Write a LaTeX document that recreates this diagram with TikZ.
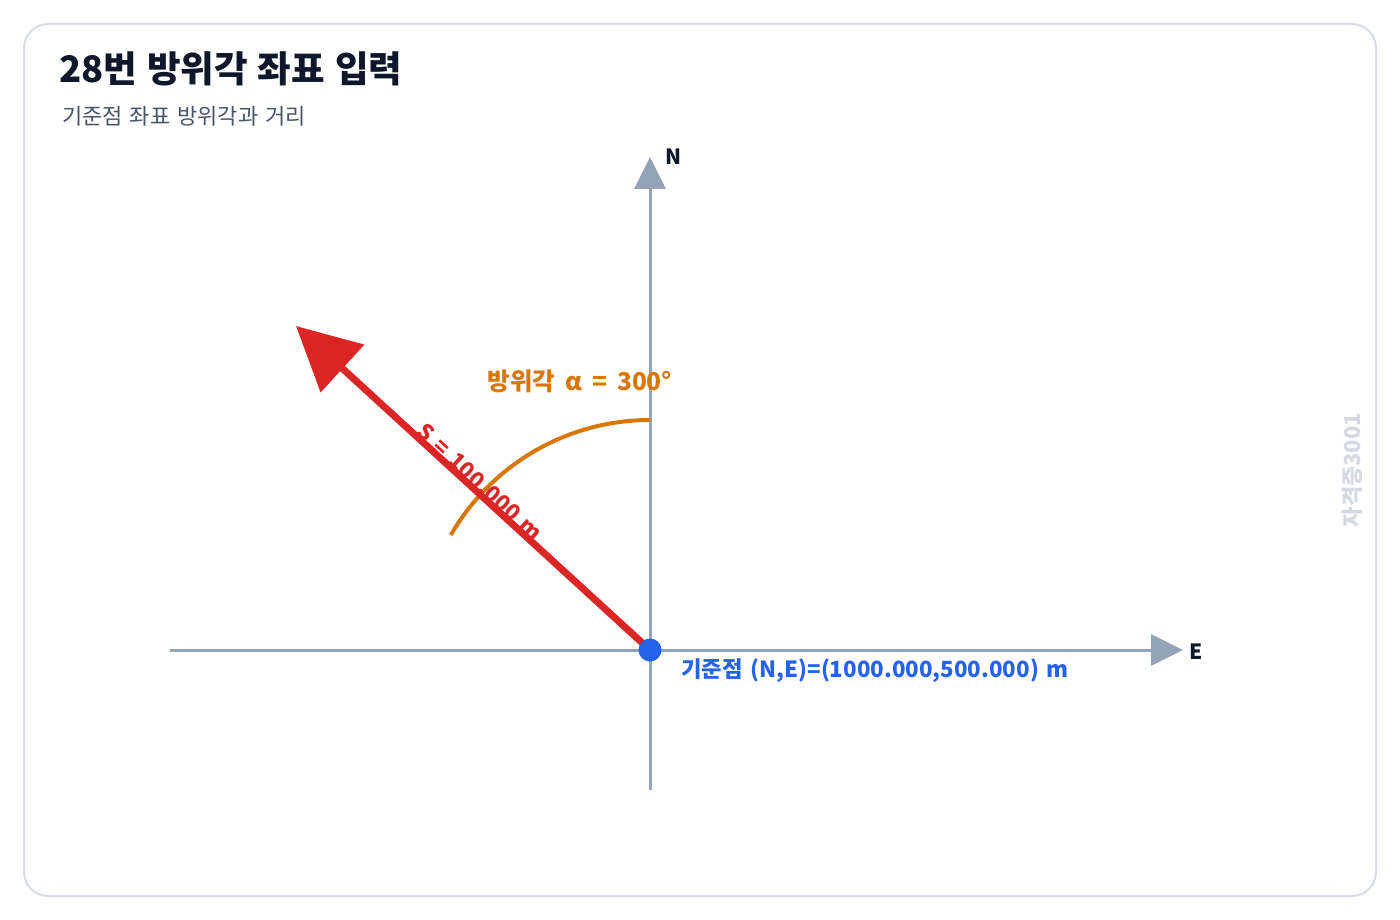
\documentclass[tikz,border=0pt]{standalone}
\usepackage{fontspec}
\setmainfont{Noto Sans CJK KR}
\usetikzlibrary{arrows.meta}
\definecolor{frame}{HTML}{D8DEE8}
\definecolor{axis}{HTML}{94A3B8}
\definecolor{redc}{HTML}{DC2626}
\definecolor{orangec}{HTML}{D97706}
\definecolor{bluec}{HTML}{2563EB}
\definecolor{titlec}{HTML}{0F172A}
\definecolor{subc}{HTML}{475569}
\definecolor{wmc}{HTML}{D5DAE2}
\tikzset{
  axisline/.style={draw=axis, line width=3pt, -{Triangle[length=32pt,width=31pt]}},
  plainaxis/.style={draw=axis, line width=3pt},
  lbl/.style={inner sep=0pt, font=\fontsize{#1}{#1}\selectfont},
  blbl/.style={inner sep=0pt, font=\bfseries\fontsize{#1}{#1}\selectfont},
}
\newcommand{\gap}[1]{\hspace{#1pt}}
\begin{document}
\begin{tikzpicture}[x=1pt,y=-1pt]
\useasboundingbox (0,0) rectangle (1400,920);
\fill[white] (0,0) rectangle (1400,920);
\draw[frame, line width=2pt, rounded corners=24pt] (24,24) rectangle (1376,896);
% title
\node[blbl=36.5, anchor=west, text=titlec] (title) at (59,69) {28번\gap{10}방위각\gap{10}좌표\gap{10}입력};
\node[lbl=22, anchor=west, text=subc] (sub) at (62,116) {기준점\gap{7}좌표\gap{7}방위각과\gap{7}거리};
% watermark
\node[blbl=22, rotate=90, text=wmc] (wm) at (1352,470) {자격증3001};
% axes
\coordinate (O) at (650,650);
\coordinate (Wend) at (170,650);
\coordinate (Eend) at (1183,650);
\coordinate (Send) at (650,790);
\coordinate (Nend) at (650,157);
\draw[plainaxis] (Wend) -- (O);
\draw[axisline] (O) -- (Eend);
\draw[plainaxis] (Send) -- (O);
\draw[axisline] (O) -- (Nend);
\node[blbl=21, text=titlec] (Nlbl) at (674,157) {N};
\node[blbl=21, text=titlec] (Elbl) at (1196,652) {E};
% arc
\draw[orangec, line width=4pt] (650,420) arc[start angle=-90, end angle=-150, radius=230];
\node[blbl=24.5, text=orangec] (alpha) at (580,381) {방위각\gap{10}α\gap{10}=\gap{10}300°};
% red arrow
\coordinate (Tip) at (296,326);
\draw[redc, line width=7pt, -{Triangle[length=63pt,width=63pt]}] (O) -- (Tip);
\node[blbl=22, text=redc, rotate=-42.5] (slbl) at (480,482) {S\gap{8}=\gap{8}100.000\gap{8}m};
% origin dot
\node[circle, fill=bluec, minimum size=23pt, inner sep=0pt] (dot) at (O) {};
\node[blbl=22.3, anchor=west, text=bluec] (base) at (681,671) {기준점\gap{8}(N,E)=(1000.000,500.000)\gap{8}m};
\end{tikzpicture}
\end{document}
